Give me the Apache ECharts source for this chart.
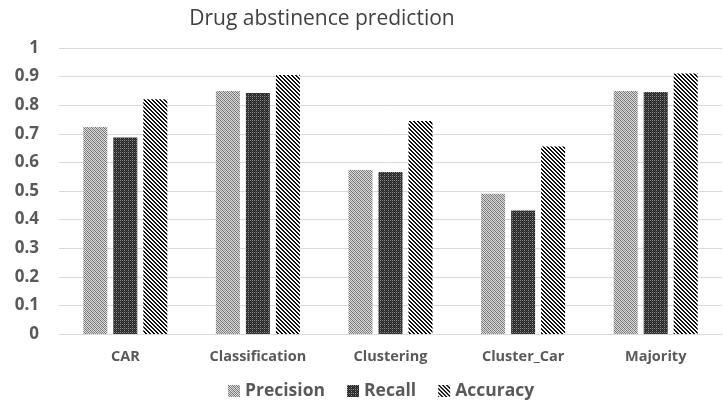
<!DOCTYPE html>
<html><head><meta charset="utf-8">
<script src="https://cdn.jsdelivr.net/npm/echarts@6/dist/echarts.min.js"></script>
<style>html,body{margin:0;padding:0;background:#fff}#c{width:723px;height:401px}</style>
</head><body><div id="c"></div>
<script>
const categories = ['CAR', 'Classification', 'Clustering', 'Cluster_Car', 'Majority'];
const precision = [0.724, 0.850, 0.573, 0.490, 0.850];
const recall = [0.687, 0.843, 0.566, 0.432, 0.846];
const accuracy = [0.821, 0.906, 0.745, 0.656, 0.911];
const yTicks = [0, 0.1, 0.2, 0.3, 0.4, 0.5, 0.6, 0.7, 0.8, 0.9, 1];

function tile(size, fn) {
  const c = document.createElement('canvas');
  c.width = size; c.height = size;
  const ctx = c.getContext('2d');
  for (let y = 0; y < size; y++) for (let x = 0; x < size; x++) {
    ctx.fillStyle = fn(x, y);
    ctx.fillRect(x, y, 1, 1);
  }
  return c;
}
const pPrec = tile(4, (x, y) => ((x + y) % 2 === 0) ? (((x - y + 8) % 4 === 0) ? '#6e6e6e' : '#8f8f8f') : '#dcdcdc');
const pRec = tile(4, (x, y) => ((x % 4 === 0) || (y % 4 === 0)) ? (((x + y) % 2 === 0) ? '#8a8a8a' : '#2a2a2a') : (((x + y) % 2 === 0) ? '#454545' : '#222'));
const pAcc = tile(4, (x, y) => (((x - y + 8) % 4) < 2) ? '#111' : '#fff');

const chart = echarts.init(document.getElementById('c'), null, {renderer: 'canvas'});
const font = '"Open Sans", sans-serif';
chart.setOption({
  animation: false,
  backgroundColor: '#fff',
  title: {
    text: 'Drug abstinence prediction', left: 317, top: 4, textAlign: 'center',
    textStyle: {fontFamily: font, fontSize: 21, fontWeight: 'normal', color: '#404040'}
  },
  legend: {
    top: 377, left: 223, itemWidth: 12, itemHeight: 12, itemGap: 22,
    icon: 'rect',
    textStyle: {fontFamily: font, fontSize: 17.5, fontWeight: 'bold', color: '#595959'},
    data: ['Precision', 'Recall', 'Accuracy']
  },
  grid: {left: 59, right: 1, top: 48, bottom: 67, containLabel: false},
  xAxis: {
    type: 'category', data: categories,
    axisLine: {lineStyle: {color: '#d9d9d9'}}, axisTick: {show: false},
    axisLabel: {fontFamily: font, fontSize: 14.5, fontWeight: 'bold', color: '#595959', margin: 15}
  },
  yAxis: {
    type: 'value', min: 0, max: 1, interval: 0.1,
    axisLine: {show: false}, axisTick: {show: false},
    splitLine: {lineStyle: {color: '#d9d9d9'}},
    axisLabel: {fontFamily: font, fontSize: 17, fontWeight: 'bold', color: '#595959', margin: 20,
      formatter: v => { const t = yTicks.find(k => Math.abs(k - v) < 1e-9); return String(t); }}
  },
  series: [
    {name: 'Precision', type: 'bar', data: precision, barWidth: 24, barGap: '25%', itemStyle: {color: {image: pPrec, repeat: 'repeat'}}},
    {name: 'Recall', type: 'bar', data: recall, barWidth: 24, barGap: '25%', itemStyle: {color: {image: pRec, repeat: 'repeat'}}},
    {name: 'Accuracy', type: 'bar', data: accuracy, barWidth: 24, barGap: '25%', itemStyle: {color: {image: pAcc, repeat: 'repeat'}}}
  ]
});
</script></body></html>
